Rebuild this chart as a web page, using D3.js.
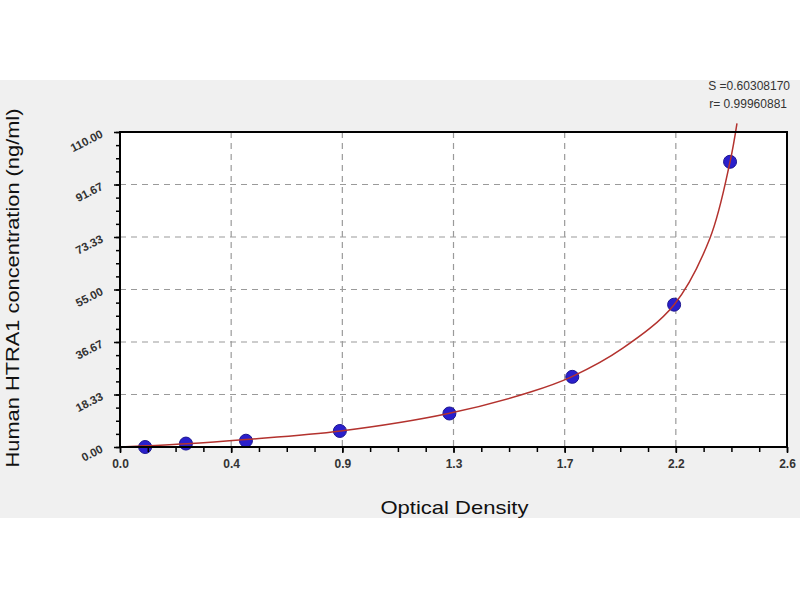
<!DOCTYPE html>
<html>
<head>
<meta charset="utf-8">
<script src="https://cdn.jsdelivr.net/npm/d3@7"></script>
<style>
  body { margin: 0; background: #fff; }
  svg { display: block; font-family: "Liberation Sans", Arial, sans-serif; }
</style>
</head>
<body>
<svg id="chart" width="800" height="600"></svg>
<script>
// Standard points (OD vs ng/ml)
const odValues   = [0.098, 0.257, 0.491, 0.857, 1.284, 1.763, 2.160, 2.378];
const concValues = [0.0, 1.2, 2.2, 5.6, 11.7, 24.5, 49.7, 99.6];

// Fitted curve
const fitOD   = [0.0, 0.1, 0.26, 0.49, 0.86, 1.28, 1.6, 1.76, 1.96, 2.16, 2.3, 2.378, 2.405];
const fitConc = [0.0, 0.4, 1.1, 2.6, 5.6, 11.7, 19.2, 24.5, 34.5, 49.7, 73.0, 99.6, 113.0];

// Axis ticks
const xTickLabels = ["0.0", "0.4", "0.9", "1.3", "1.7", "2.2", "2.6"];
const yTickLabels = ["0.00", "18.33", "36.67", "55.00", "73.33", "91.67", "110.00"];
const xMax = 2.6, yMax = 110;
const minorPerMajor = 4;

const fitStats = ["S =0.60308170", "r= 0.99960881"];
const xTitle = "Optical Density";
const yTitle = "Human HTRA1 concentration (ng/ml)";

(function draw() {
  const svg = d3.select("#chart");
  const L = 120, T = 132, R = 787, B = 447;

  // grey band behind the plot
  svg.append("rect")
    .attr("x", 0).attr("y", 80).attr("width", 800).attr("height", 438)
    .attr("fill", "#f0f0f0");
  svg.append("rect")
    .attr("x", L).attr("y", T).attr("width", R - L).attr("height", B - T)
    .attr("fill", "#fff");

  const x = d3.scaleLinear().domain([0, xMax]).range([L, R]);
  const y = d3.scaleLinear().domain([0, yMax]).range([B, T]);

  const nMaj = xTickLabels.length - 1;
  const xMajor = d3.range(nMaj + 1).map(i => i * xMax / nMaj);
  const yMajor = d3.range(nMaj + 1).map(i => i * yMax / nMaj);
  const xMinor = d3.range(nMaj * minorPerMajor + 1).map(i => i * xMax / (nMaj * minorPerMajor));
  const yMinor = d3.range(nMaj * minorPerMajor + 1).map(i => i * yMax / (nMaj * minorPerMajor));

  // dashed grid
  const grid = svg.append("g")
    .attr("stroke", "#9a9a9a").attr("stroke-width", 1.2)
    .attr("stroke-dasharray", "6,5");
  grid.selectAll("line.v").data(xMajor.slice(1, -1)).join("line")
    .attr("class", "v")
    .attr("x1", d => x(d)).attr("x2", d => x(d))
    .attr("y1", T).attr("y2", B);
  grid.selectAll("line.h").data(yMajor.slice(1, -1)).join("line")
    .attr("class", "h")
    .attr("x1", L).attr("x2", R)
    .attr("y1", d => y(d)).attr("y2", d => y(d));

  // standard points
  svg.append("g").selectAll("circle")
    .data(odValues.map((od, i) => [od, concValues[i]]))
    .join("circle")
      .attr("cx", d => x(d[0]))
      .attr("cy", d => y(d[1]))
      .attr("r", 6.5)
      .attr("fill", "#2a1fcc")
      .attr("stroke", "#1c1690")
      .attr("stroke-width", 1);

  // fitted curve (runs a little past the top of the box, as in the original)
  const line = d3.line()
    .x(d => x(d[0]))
    .y(d => y(d[1]))
    .curve(d3.curveCatmullRom.alpha(0.5));
  svg.append("path")
    .datum(fitOD.map((od, i) => [od, fitConc[i]]))
    .attr("d", line)
    .attr("fill", "none")
    .attr("stroke", "#b3322e")
    .attr("stroke-width", 1.5);

  // frame
  svg.append("rect")
    .attr("x", L).attr("y", T).attr("width", R - L).attr("height", B - T)
    .attr("fill", "none").attr("stroke", "#000").attr("stroke-width", 2);

  // x ticks
  const xMinorAxis = d3.axisBottom(x).tickValues(xMinor).tickSize(5).tickFormat("");
  const xMajorAxis = d3.axisBottom(x).tickValues(xMajor).tickSize(6).tickPadding(6)
    .tickFormat((d, i) => xTickLabels[i]);
  [xMinorAxis, xMajorAxis].forEach(ax => {
    const g = svg.append("g").attr("transform", `translate(0,${B})`).call(ax);
    g.select(".domain").remove();
    g.selectAll(".tick line").attr("stroke", "#000").attr("stroke-width", 1.5);
    g.selectAll(".tick text")
      .attr("fill", "#333").attr("font-size", 12).attr("font-weight", "bold")
      .attr("font-family", "Liberation Sans, Arial, sans-serif");
  });

  // y ticks
  const yMinorAxis = d3.axisLeft(y).tickValues(yMinor).tickSize(4).tickFormat("");
  const yMajorAxis = d3.axisLeft(y).tickValues(yMajor).tickSize(6).tickFormat("");
  [yMinorAxis, yMajorAxis].forEach(ax => {
    const g = svg.append("g").attr("transform", `translate(${L},0)`).call(ax);
    g.select(".domain").remove();
    g.selectAll(".tick line").attr("stroke", "#000").attr("stroke-width", 1.5);
  });

  // slanted y tick labels
  svg.append("g").selectAll("text")
    .data(yMajor)
    .join("text")
      .attr("transform", d => `translate(102,${y(d) + 1}) rotate(-27)`)
      .attr("text-anchor", "end")
      .attr("dy", "0.35em")
      .attr("fill", "#333")
      .attr("font-size", 11.5)
      .attr("font-weight", "bold")
      .text((d, i) => yTickLabels[i]);

  // axis titles
  svg.append("text")
    .attr("x", (L + R) / 2 + 1).attr("y", 514)
    .attr("text-anchor", "middle")
    .attr("font-size", 19)
    .attr("textLength", 148).attr("lengthAdjust", "spacingAndGlyphs")
    .attr("fill", "#111")
    .text(xTitle);
  svg.append("text")
    .attr("transform", "translate(19,288) rotate(-90)")
    .attr("text-anchor", "middle")
    .attr("font-size", 18)
    .attr("textLength", 359).attr("lengthAdjust", "spacingAndGlyphs")
    .attr("fill", "#111")
    .text(yTitle);

  // fit statistics, top right
  svg.append("g").selectAll("text")
    .data(fitStats)
    .join("text")
      .attr("x", (d, i) => i === 0 ? 790 : 787)
      .attr("y", (d, i) => 90 + i * 18)
      .attr("text-anchor", "end")
      .attr("font-size", 12)
      .attr("fill", "#333")
      .text(d => d);
})();
</script>
</body>
</html>
